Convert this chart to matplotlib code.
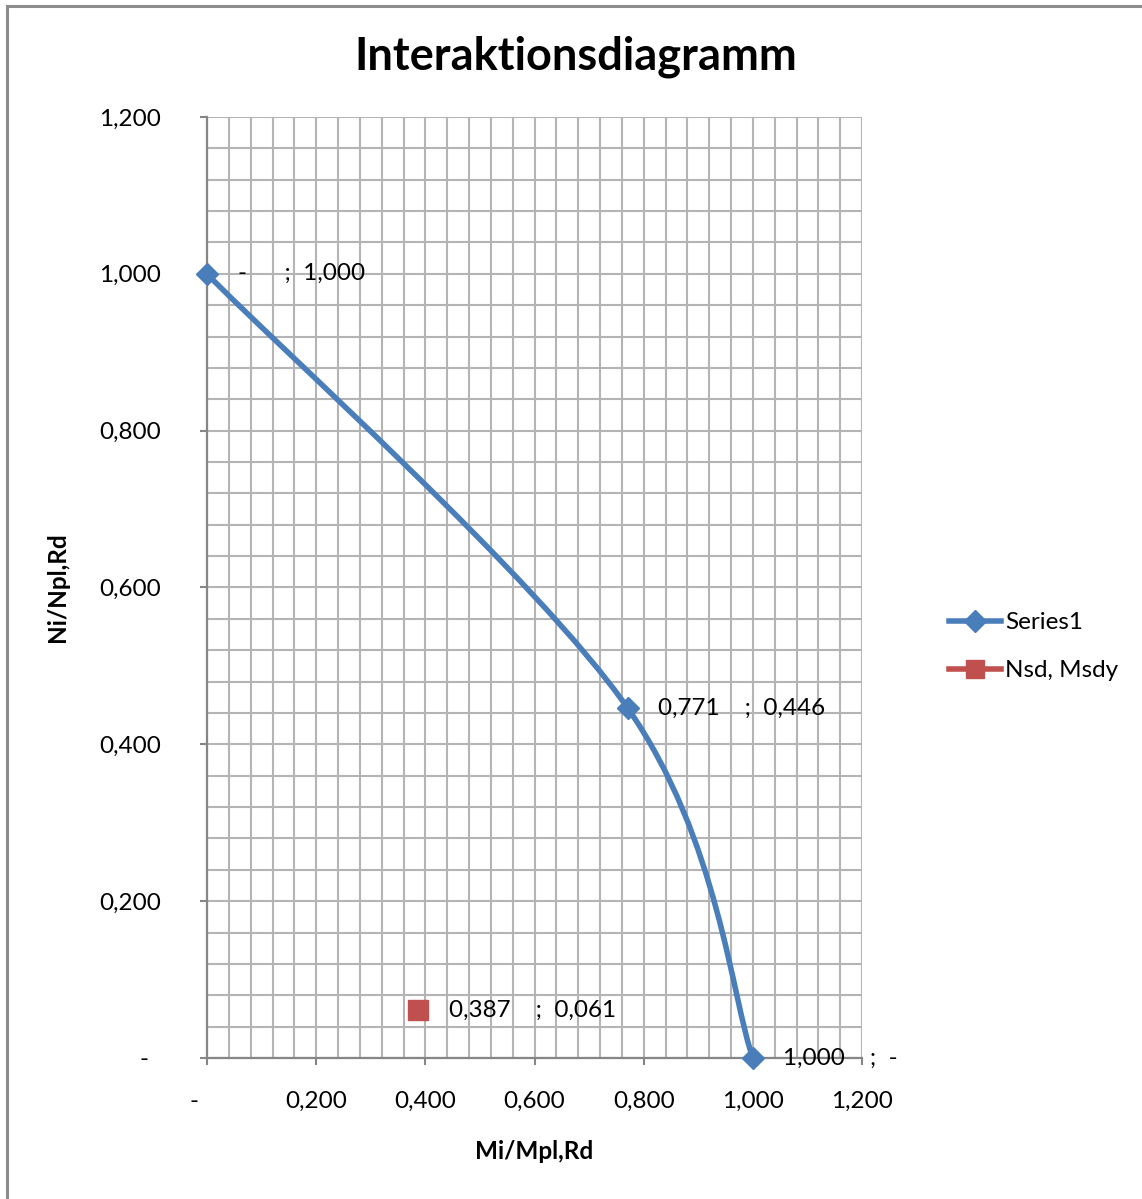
import numpy as np
import matplotlib.pyplot as plt
from matplotlib.path import Path
from matplotlib.patches import PathPatch, Rectangle
from matplotlib.lines import Line2D
from matplotlib.ticker import MultipleLocator, FuncFormatter

plt.rcParams['font.family'] = ['Lato', 'DejaVu Sans']

# interaction curve points (M/Mpl, N/Npl)
series1_x = [0.0, 0.771, 1.0]
series1_y = [1.0, 0.446, 0.0]
# design point
nsd_x = [0.387]
nsd_y = [0.061]

blue = '#4A7EBB'
red = '#C0504D'
fs = 17.5


def fmt(v, pad='  '):
    if abs(v) < 1e-9:
        return '-' + pad
    return f'{v:.3f}'.replace('.', ',')


fig = plt.figure(figsize=(11.42, 11.99), dpi=100)
ax = fig.add_axes([207 / 1142, 141 / 1199, 655 / 1142, 941 / 1199])

# smoothed line like excel (catmull-rom style bezier)
pts = np.column_stack([series1_x, series1_y])
ext = np.vstack([pts[0], pts, pts[-1]])
verts = [tuple(pts[0])]
codes = [Path.MOVETO]
for i in range(len(pts) - 1):
    p0, p1, p2, p3 = ext[i], ext[i + 1], ext[i + 2], ext[i + 3]
    c1 = p1 + (p2 - p0) / 6
    c2 = p2 - (p3 - p1) / 6
    verts += [tuple(c1), tuple(c2), tuple(p2)]
    codes += [Path.CURVE4] * 3
ax.add_patch(PathPatch(Path(verts, codes), facecolor='none', edgecolor=blue,
                       lw=4, zorder=3, capstyle='round'))
ax.plot(series1_x, series1_y, linestyle='none', marker='D', markersize=11,
        color=blue, zorder=4, clip_on=False)
ax.plot(nsd_x, nsd_y, linestyle='none', marker='s', markersize=14,
        color=red, zorder=4, clip_on=False)

# data labels
for x, y in list(zip(series1_x, series1_y)) + list(zip(nsd_x, nsd_y)):
    if abs(x) < 1e-9:
        lab = '-      ;  ' + fmt(y)
    elif abs(y) < 1e-9:
        lab = fmt(x) + '    ;  -'
    else:
        lab = fmt(x) + '    ;  ' + fmt(y)
    ax.annotate(lab, (x, y), xytext=(22, 0), textcoords='offset points',
                ha='left', va='center', fontsize=fs, zorder=5)

ax.set_xlim(0, 1.2)
ax.set_ylim(0, 1.2)
ax.xaxis.set_major_locator(MultipleLocator(0.2))
ax.yaxis.set_major_locator(MultipleLocator(0.2))
ax.xaxis.set_minor_locator(MultipleLocator(0.04))
ax.yaxis.set_minor_locator(MultipleLocator(0.04))
ax.xaxis.set_major_formatter(FuncFormatter(lambda v, p: fmt(v, '    ')))
ax.yaxis.set_major_formatter(FuncFormatter(lambda v, p: fmt(v, '  ')))
ax.grid(True, which='both', color='#B4B4B4', lw=1.5, zorder=0)
ax.set_axisbelow(True)
ax.tick_params(which='major', length=5, width=1.5, color='#868686',
               labelsize=fs, direction='out')
ax.tick_params(axis='x', pad=19)
ax.tick_params(axis='y', pad=28)
ax.tick_params(which='minor', length=0)
for s in ['top', 'right']:
    ax.spines[s].set_visible(False)
for s in ['left', 'bottom']:
    ax.spines[s].set_color('#868686')
    ax.spines[s].set_linewidth(1.6)

ax.set_xlabel('Mi/Mpl,Rd', fontsize=fs, fontweight='bold', labelpad=20)
ax.set_ylabel('Ni/Npl,Rd', fontsize=fs, fontweight='bold', labelpad=22)
fig.text(0.504, 0.9525, 'Interaktionsdiagramm', fontsize=32.5, fontweight='bold',
         ha='center', va='center')

handles = [Line2D([], [], color=blue, lw=4, marker='D', markersize=11),
           Line2D([], [], color=red, lw=4, marker='s', markersize=13)]
ax.legend(handles, ['Series1', 'Nsd, Msdy'], loc='center left',
          bbox_to_anchor=(1.115, 0.437), frameon=False, fontsize=fs,
          handlelength=2.1, handletextpad=0.2, labelspacing=1.1, borderpad=0)

# chart area border
fig.patches.append(Rectangle((7 / 1142, -0.1), 1.2, 1.1 - 6 / 1199,
                             transform=fig.transFigure, fill=False,
                             edgecolor='#8C8C8C', lw=2.2))

fig.savefig('out.png', dpi=100)
